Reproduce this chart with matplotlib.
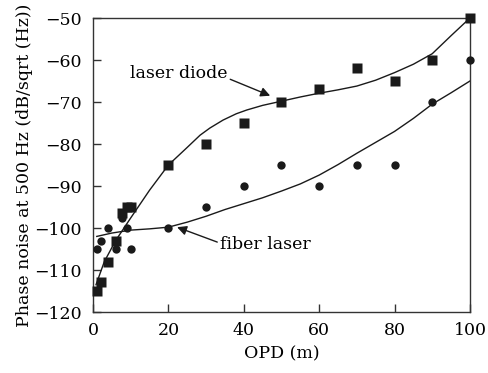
import matplotlib
matplotlib.use("Agg")
import matplotlib.pyplot as plt

# Measured data: laser diode (squares)
ld_x = [1, 2, 4, 6, 7.7, 9, 10, 20, 30, 40, 50, 60, 70, 80, 90, 100]
ld_y = [-115, -112.8, -108, -103, -96.5, -95, -95, -85, -80, -75, -70, -67, -62, -65, -60, -50]

# Measured data: fiber laser (circles)
fl_x = [1, 2, 4, 6, 7.7, 9, 10, 20, 30, 40, 50, 60, 70, 80, 90, 100]
fl_y = [-105, -103, -100, -105, -97.6, -100, -105, -100, -95, -90, -85, -90, -85, -85, -70, -60]

# Fitted curves
ld_fit_x = [0.8, 3, 6, 10, 15, 20, 25, 28.4, 31, 34.5, 38, 40.8, 45, 50, 55, 60, 65, 70, 75, 80, 85, 90, 95, 100]
ld_fit_y = [-113.5, -108, -103, -97.6, -91, -85, -80.8, -77.9, -76.2, -74.3, -72.8, -71.9, -70.8, -69.8, -68.8,
            -67.9, -67.1, -66.2, -64.8, -63, -61, -58.5, -54.2, -50]
fl_fit_x = [1, 5, 10, 15, 20, 25, 30, 35, 40, 45, 50, 55, 60, 65, 70, 75, 80, 85, 90, 95, 100]
fl_fit_y = [-102, -101.2, -100.5, -100.2, -99.8, -98.6, -97.2, -95.6, -94.2, -92.8, -91.2, -89.5,
            -87.4, -84.9, -82.2, -79.6, -77, -73.9, -70.5, -67.8, -65]

xticks = [0, 20, 40, 60, 80, 100]
yticks = [-120, -110, -100, -90, -80, -70, -60, -50]

plt.rcParams['font.family'] = ['DejaVu Serif']
plt.rcParams['font.size'] = 12.5

fig = plt.figure(figsize=(4.88, 3.73), dpi=100)
ax = fig.add_axes([0.1906, 0.1635, 0.963 - 0.1906, 0.9517 - 0.1635])

c = '#1a1a1a'
ax.plot(ld_fit_x, ld_fit_y, color=c, lw=1.0)
ax.plot(fl_fit_x, fl_fit_y, color=c, lw=1.0)
ax.plot(ld_x, ld_y, 's', color=c, ms=6.5, mec='none', clip_on=False, zorder=3)
ax.plot(fl_x, fl_y, 'o', color=c, ms=6, mec='none', clip_on=False, zorder=3)

ax.set_xlim(0, 100)
ax.set_ylim(-120, -50)
ax.set_xticks(xticks)
ax.set_yticks(yticks)
ax.set_yticklabels(['\u2212' + str(abs(v)) for v in yticks])
ax.tick_params(direction='in', length=6, width=1, color='#333333')
ax.tick_params(axis='y', pad=8)
ax.tick_params(axis='x', pad=7)
for s in ax.spines.values():
    s.set_linewidth(1.0)
    s.set_color('#333333')

ax.set_xlabel('OPD (m)', labelpad=5)
ax.set_ylabel('Phase noise at 500 Hz (dB/sqrt (Hz))', labelpad=1)

ax.annotate('laser diode', xy=(47, -68.5), xytext=(9.8, -63.1),
            ha='left', va='center',
            arrowprops=dict(arrowstyle='-|>', color=c, lw=1.0, mutation_scale=14,
                            shrinkA=0, shrinkB=0, relpos=(1.0, 0.2)))
ax.annotate('fiber laser', xy=(22.3, -99.8), xytext=(33.7, -104),
            ha='left', va='center',
            arrowprops=dict(arrowstyle='-|>', color=c, lw=1.0, mutation_scale=14,
                            shrinkA=0, shrinkB=0, relpos=(0.0, 0.6)))

fig.savefig('out.png', dpi=100)
